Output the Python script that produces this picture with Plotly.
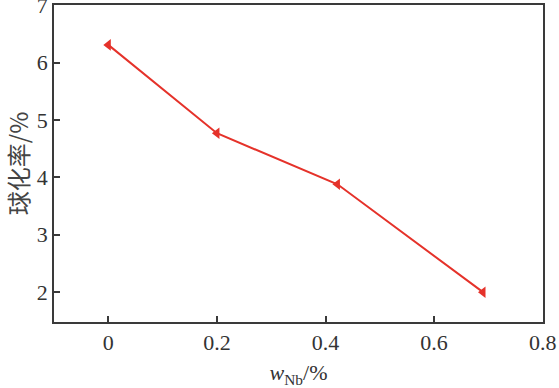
import plotly.graph_objects as go

nb_content = [0.0, 0.2, 0.422, 0.69]
spheroidization_rate = [6.31, 4.77, 3.88, 2.0]
x_ticks = [0, 0.2, 0.4, 0.6, 0.8]
x_tick_labels = ["0", "0.2", "0.4", "0.6", "0.8"]
y_ticks = [2, 3, 4, 5, 6, 7]
y_tick_labels = ["2", "3", "4", "5", "6", "7"]

red = "#e5322a"
axis_col = "#3a3a3a"
serif = "Liberation Serif"
tick_font = dict(family=serif, size=22, color="#333")

fig = go.Figure()
fig.add_trace(go.Scatter(
    x=nb_content, y=spheroidization_rate, mode="lines+markers",
    line=dict(color=red, width=2),
    marker=dict(symbol="triangle-left", size=10, color=red),
    showlegend=False,
))

fig.update_layout(
    width=559, height=388,
    margin=dict(l=54, r=16, t=5, b=66, autoexpand=False),
    paper_bgcolor="white", plot_bgcolor="white",
    font=dict(family=serif, size=21, color="#333"),
    xaxis=dict(
        range=[-0.1, 0.8005], tickvals=x_ticks, ticktext=x_tick_labels,
        tickfont=tick_font, ticklabeloverflow="allow", automargin=False,
        ticks="inside", ticklen=6, tickwidth=1.5, tickcolor=axis_col,
        showline=True, linecolor=axis_col, linewidth=1.5, mirror=True,
        showgrid=False, zeroline=False,
        title=dict(text="<i>w</i><sub>Nb</sub>/%", font=dict(family=serif, size=22, color="#333"), standoff=12),
    ),
    yaxis=dict(
        range=[1.48, 7.005], tickvals=y_ticks, ticktext=y_tick_labels,
        tickfont=tick_font, ticklabeloverflow="allow", automargin=False,
        ticks="inside", ticklen=6, tickwidth=1.5, tickcolor=axis_col,
        showline=True, linecolor=axis_col, linewidth=1.5, mirror=True,
        showgrid=False, zeroline=False,
        title=dict(text="球化率/%", font=dict(size=24, family="Noto Sans CJK SC", color="#444"), standoff=11),
    ),
)

fig.write_html(
    "out.html",
    config={"displayModeBar": False},
    post_script="document.body.style.margin='0';document.body.style.overflow='hidden';",
)
